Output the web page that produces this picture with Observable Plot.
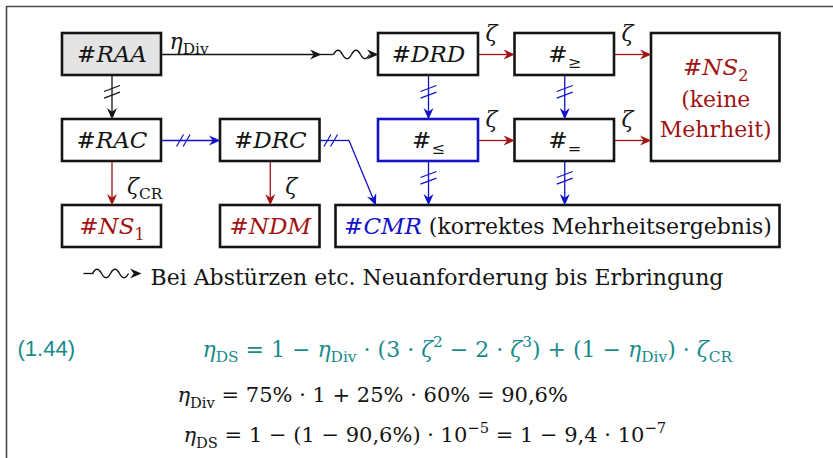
<!DOCTYPE html>
<html>
<head>
<meta charset="utf-8">
<script src="https://cdn.jsdelivr.net/npm/d3@7"></script>
<script src="https://cdn.jsdelivr.net/npm/@observablehq/plot@0.6"></script>
<style>
  body { margin: 0; background: #fff; }
  svg { display: block; }
</style>
</head>
<body>
<div id="chart"></div>
<script>
// ---------------- data ----------------
// markup in labels: *…* italic, _{…} subscript, ^{…} superscript, | switches to plain body text
const nodeIds    = ["RAA", "DRD", "GE", "NS2", "RAC", "DRC", "LE", "EQ", "NS1", "NDM", "CMR"];
const nodeLabels = ["#*RAA*", "#*DRD*", "#_{≥}", "#*NS*_{2}\n(keine\nMehrheit)", "#*RAC*", "#*DRC*",
                    "#_{≤}", "#_{=}", "#*NS*_{1}", "#*NDM*", "#*CMR*| (korrektes Mehrheitsergebnis)"];
const nodeKinds  = ["start", "step", "step", "fail", "step", "step", "vote", "step", "fail", "fail", "success"];

const edgeFrom   = ["RAA", "RAA", "RAC", "RAC", "DRC", "DRC", "DRD", "DRD", "GE", "GE", "LE", "LE", "EQ", "EQ"];
const edgeTo     = ["DRD", "RAC", "NS1", "DRC", "NDM", "CMR", "GE", "LE", "NS2", "EQ", "EQ", "CMR", "NS2", "CMR"];
const edgeKinds  = ["retry", "pass", "fail", "vote", "fail", "vote", "fail", "vote", "fail", "vote", "fail", "vote", "fail", "vote"];
const edgeLabels = ["*η*_{Div}", "", "*ζ*_{CR}", "", "*ζ*", "", "*ζ*", "", "*ζ*", "", "*ζ*", "", "*ζ*", ""];

const legendText = "Bei Abstürzen etc. Neuanforderung bis Erbringung";
const eqNumber   = "(1.44)";
const eqLines    = [
  "*η*_{DS} = 1 − *η*_{Div} · (3 · *ζ*^{2} − 2 · *ζ*^{3}) + (1 − *η*_{Div}) · *ζ*_{CR}",
  "*η*_{Div} = 75% · 1 + 25% · 60% = 90,6%",
  "*η*_{DS} = 1 − (1 − 90,6%) · 10^{−5} = 1 − 9,4 · 10^{−7}"
];
const eqKinds    = ["main", "calc", "calc"];

// ---------------- layout & style ----------------
const INK = "#141414", RED = "#a01414", BLUE = "#1212c8", TEAL = "#178b8b", GREY = "#e4e4e4", FRAME = "#4a4a4a";
const SERIF = "'DejaVu Serif', serif";
const SANS = "'Liberation Sans Narrow', 'Liberation Sans', sans-serif";
const BODY = 22, LABEL = 23, LINE_H = 30;

const box = {
  RAA: [62, 161, 33, 75],   DRD: [378, 478, 33, 75],  GE: [514.5, 614, 33, 75],  NS2: [651, 779.5, 33, 161],
  RAC: [62, 161, 119, 161], DRC: [220, 319.5, 119, 161], LE: [378, 478, 119, 161], EQ: [514.5, 614, 119, 161],
  NS1: [62, 161, 205, 247], NDM: [220, 319.5, 205, 247], CMR: [335.5, 779.5, 205, 247]
};
const kindStyle = {
  start:   {fill: GREY,    stroke: INK,  text: INK},
  step:    {fill: "white", stroke: INK,  text: INK},
  vote:    {fill: "white", stroke: BLUE, text: INK},
  fail:    {fill: "white", stroke: INK,  text: RED},
  success: {fill: "white", stroke: INK,  text: BLUE}
};
const edgeStyle = {
  retry: {color: INK,  hash: false},
  pass:  {color: INK,  hash: true},
  vote:  {color: BLUE, hash: true},
  fail:  {color: RED,  hash: false}
};
const BEND_OUT = 29, BEND_IN = 40;
const eqLayout = {main: {size: 22, color: TEAL}, calc: {size: 21, color: INK}};
const eqY = [349, 395, 435];
const eqLineX = [202, 177, 183];

// ---------------- symbols ----------------
const arrowCache = new Map();
function arrowSym(deg) {
  const k = Math.round(deg * 10) / 10;
  if (!arrowCache.has(k)) {
    const t = k * Math.PI / 180, c = Math.cos(t), s = Math.sin(t);
    const pts = [[0, 0], [-11.5, -5], [-7.8, 0], [-11.5, 5]].map(([x, y]) => [x * c - y * s, x * s + y * c]);
    arrowCache.set(k, {draw(ctx) {
      ctx.moveTo(pts[0][0], pts[0][1]);
      for (const p of pts.slice(1)) ctx.lineTo(p[0], p[1]);
      ctx.closePath();
    }});
  }
  return arrowCache.get(k);
}
const hashH = {draw(ctx) { for (const d of [-3.3, 3.3]) { ctx.moveTo(d - 3.5, 6); ctx.lineTo(d + 3.5, -6); } }};
const hashV = {draw(ctx) { for (const d of [-3.3, 3.3]) { ctx.moveTo(-8, d + 3); ctx.lineTo(8, d - 3); } }};
const squiggle = {draw(ctx) {
  ctx.moveTo(-18, 0);
  for (let i = 0; i < 4; i++) {
    const x0 = -18 + i * 9, dir = i % 2 === 0 ? -1 : 1;
    ctx.bezierCurveTo(x0 + 3, dir * 5.6, x0 + 6, dir * 5.6, x0 + 9, 0);
  }
}};

// ---------------- build tables ----------------
const nodes = nodeIds.map((id, i) => ({id, label: nodeLabels[i], kind: nodeKinds[i], b: box[id]}));
const edges = edgeFrom.map((f, i) => ({from: f, to: edgeTo[i], kind: edgeKinds[i], label: edgeLabels[i]}));

function route(e) {
  const a = box[e.from], b = box[e.to];
  const acx = (a[0] + a[1]) / 2, acy = (a[2] + a[3]) / 2;
  if (b[2] >= a[3]) {
    if (acx >= b[0] && acx <= b[1]) return [[acx, a[3]], [acx, b[2]]];
    return [[a[1], acy], [a[1] + BEND_OUT, acy], [b[0] + BEND_IN, b[2]]];
  }
  return [[a[1], acy], [b[0], acy]];
}

const segments = [], arrows = [], hashes = [], squiggles = [], edgeTexts = [];
for (const e of edges) {
  const st = edgeStyle[e.kind];
  const pts = route(e);
  const a = box[e.from];
  const acx = (a[0] + a[1]) / 2, acy = (a[2] + a[3]) / 2;
  const [tx, ty] = pts[pts.length - 1];
  if (e.kind === "retry") {
    const mid = tx - 57;
    segments.push({x1: pts[0][0], y1: ty, x2: mid - 5, y2: ty, color: st.color});
    arrows.push({x: mid, y: ty, deg: 0, color: st.color});
    segments.push({x1: mid - 2, y1: ty, x2: tx - 45, y2: ty, color: st.color});
    squiggles.push({x: tx - 27, y: ty, color: st.color});
    arrows.push({x: tx, y: ty, deg: 0, color: st.color});
  } else {
    for (let i = 0; i < pts.length - 1; i++) {
      let [x1, y1] = pts[i], [x2, y2] = pts[i + 1];
      if (i === pts.length - 2) {
        const L = Math.hypot(x2 - x1, y2 - y1);
        x2 -= (x2 - x1) / L * 6; y2 -= (y2 - y1) / L * 6;
      }
      segments.push({x1, y1, x2, y2, color: st.color});
    }
    const [px, py] = pts[pts.length - 2];
    arrows.push({x: tx, y: ty, deg: Math.atan2(ty - py, tx - px) * 180 / Math.PI, color: st.color});
    if (st.hash) {
      const [x1, y1] = pts[0], [x2, y2] = pts[1];
      hashes.push({x: x1 + (x2 - x1) * 0.37, y: y1 + (y2 - y1) * 0.37, vertical: x1 === x2, color: st.color});
    }
  }
  if (e.label) {
    if (e.kind === "retry") edgeTexts.push({t: e.label, x: a[1] + 8, y: acy - 13, anchor: "start"});
    else if (pts[0][1] === pts[1][1]) edgeTexts.push({t: e.label, x: a[1] + 13, y: acy - 21, anchor: "middle"});
    else edgeTexts.push({t: e.label, x: acx + 15, y: (pts[0][1] + pts[1][1]) / 2 + 3, anchor: "start"});
  }
}

const labelLines = nodes.flatMap(n => {
  const lines = n.label.split("\n");
  const cx = (n.b[0] + n.b[1]) / 2, cy = (n.b[2] + n.b[3]) / 2;
  return lines.map((t, i) => ({t, x: cx, y: cy + (i - (lines.length - 1) / 2) * LINE_H + (i > 0 ? 2 : 0),
                               size: i === 0 ? LABEL : BODY, color: kindStyle[n.kind].text}));
});

const eqRows = eqLines.map((t, i) => ({t, x: eqLineX[i], y: eqY[i],
  color: eqLayout[eqKinds[i]].color, size: eqLayout[eqKinds[i]].size}));

// legend geometry
const LEG = {y: 273, x0: 83};
const legendSeg = [{x1: LEG.x0, y1: LEG.y, x2: LEG.x0 + 10, y2: LEG.y, color: INK}];
const legendSq = [{x: LEG.x0 + 27, y: LEG.y, color: INK}];
const legendArrow = [{x: LEG.x0 + 58, y: LEG.y, deg: 0, color: INK}];

// group arrows by angle
const arrowMarks = Array.from(d3.group(arrows.concat(legendArrow), d => Math.round(d.deg * 10) / 10),
  ([deg, data]) => Plot.dot(data, {x: "x", y: "y", symbol: arrowSym(deg), fill: "color", stroke: "none", r: 5}));

const textOpts = {x: "x", y: "y", text: "t", fontSize: BODY, fill: INK, fontFamily: SERIF};

const plot = Plot.plot({
  width: 833, height: 458, margin: 0,
  x: {domain: [0, 833], range: [0, 833], axis: null},
  y: {domain: [0, 458], range: [0, 458], axis: null},
  color: {type: "identity"},
  marks: [
    Plot.ruleY([6], {x1: 6, x2: 833, stroke: FRAME, strokeWidth: 1.6}),
    Plot.ruleX([6], {y1: 6, y2: 458, stroke: FRAME, strokeWidth: 1.6}),
    Plot.link(segments.concat(legendSeg), {x1: "x1", y1: "y1", x2: "x2", y2: "y2", stroke: "color", strokeWidth: 1.3}),
    Plot.rect(nodes, {x1: d => d.b[0], x2: d => d.b[1], y1: d => d.b[2], y2: d => d.b[3],
      fill: d => kindStyle[d.kind].fill, stroke: d => kindStyle[d.kind].stroke, strokeWidth: 2.6}),
    Plot.dot(hashes.filter(d => !d.vertical), {x: "x", y: "y", symbol: hashH, fill: "none", stroke: "color", strokeWidth: 1.2}),
    Plot.dot(hashes.filter(d => d.vertical), {x: "x", y: "y", symbol: hashV, fill: "none", stroke: "color", strokeWidth: 1.2}),
    Plot.dot(squiggles.concat(legendSq), {x: "x", y: "y", symbol: squiggle, fill: "none", stroke: "color", strokeWidth: 1.4}),
    ...arrowMarks,
    Plot.text(labelLines, {...textOpts, fontSize: "size", fill: "color"}),
    Plot.text(edgeTexts.filter(d => d.anchor === "start"), {...textOpts, textAnchor: "start"}),
    Plot.text(edgeTexts.filter(d => d.anchor === "middle"), {...textOpts, textAnchor: "middle"}),
    Plot.text([legendText], {x: () => LEG.x0 + 67, y: () => 277, text: d => d, textAnchor: "start", fontSize: BODY, fill: INK, fontFamily: SERIF}),
    Plot.text([eqNumber], {x: () => 17, y: () => 348, text: d => d, textAnchor: "start", fontSize: 22, fill: TEAL, fontFamily: SANS}),
    Plot.text(eqRows, {...textOpts, textAnchor: "start", fontSize: "size", fill: "color"})
  ]
});
document.getElementById("chart").appendChild(plot);

// ---------------- rich text (italics, sub/superscripts) ----------------
function richText(root) {
  const NS = "http://www.w3.org/2000/svg";
  root.querySelectorAll("text").forEach(t => {
    const src = t.textContent;
    if (!/[*_^|]/.test(src)) return;
    const fs = parseFloat(getComputedStyle(t).fontSize);
    const segs = [];
    let italic = false, script = null, plain = false, buf = "";
    const flush = () => { if (buf) segs.push({t: buf, italic, script, plain}); buf = ""; };
    for (let i = 0; i < src.length; i++) {
      const c = src[i];
      if (c === "*") { flush(); italic = !italic; }
      else if ((c === "_" || c === "^") && src[i + 1] === "{") { flush(); script = c === "_" ? "sub" : "sup"; i++; }
      else if (c === "}" && script) { flush(); script = null; }
      else if (c === "|") { flush(); plain = true; }
      else buf += c;
    }
    flush();
    t.textContent = "";
    t.style.whiteSpace = "pre";
    let shift = 0;
    for (const s of segs) {
      const ts = document.createElementNS(NS, "tspan");
      const base = s.plain ? BODY : fs;
      const target = s.script === "sub" ? 0.27 * base : s.script === "sup" ? -0.42 * base : 0;
      if (Math.abs(target - shift) > 1e-6) { ts.setAttribute("dy", (target - shift).toFixed(2)); shift = target; }
      if (s.script) ts.setAttribute("font-size", (0.7 * base).toFixed(1));
      else if (s.plain) ts.setAttribute("font-size", base);
      if (s.italic) ts.setAttribute("font-style", "italic");
      if (s.plain) ts.setAttribute("fill", INK);
      ts.textContent = s.t;
      t.appendChild(ts);
    }
  });
}
richText(plot);
</script>
</body>
</html>
